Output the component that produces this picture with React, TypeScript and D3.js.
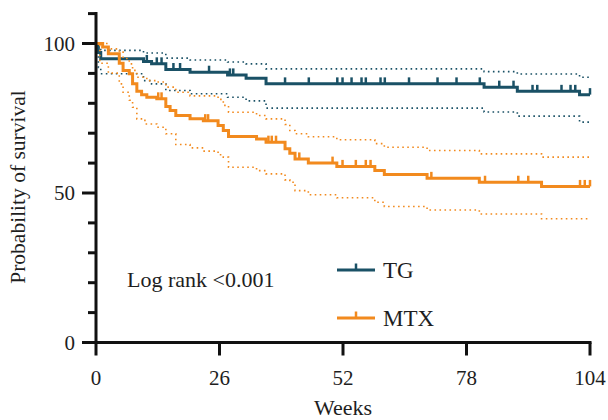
import React, { useRef, useEffect } from 'react';
import * as d3 from 'd3';

// step curves: [week, survival %] – value holds from that week onward
const tgSurvival: [number, number][] = [[0, 100], [0.5, 97], [1, 94.9], [10, 94], [11.7, 93.2], [14.7, 91.3], [19.8, 90.4], [27.7, 89.5], [31.6, 88.4], [35.8, 86.5], [81.7, 85.4], [88.7, 84.0], [101.8, 82.9], [104, 82.9]];
const tgUpper: [number, number][] = [[0, 100], [0.5, 98.5], [1, 97.7], [10, 96.8], [14.7, 95.1], [19.8, 94.5], [27.7, 93.8], [31.6, 93.2], [35.8, 91.5], [81.7, 90.6], [88.7, 89.8], [101.8, 88.7], [104, 88.7]];
const tgLower: [number, number][] = [[0, 100], [0.5, 92], [1, 89.9], [10, 87.6], [11.7, 86.5], [14.7, 84.3], [19.8, 83.2], [27.7, 82], [31.6, 80.8], [35.8, 78.4], [81.7, 77.1], [88.7, 75.7], [101.8, 73.7], [104, 73.7]];
const tgCensored = [10.7, 12.8, 13.8, 16.3, 17.7, 23.8, 28.2, 28.9, 39.8, 44.8, 50.8, 51.9, 53.8, 55.9, 56.8, 59.9, 60.8, 65.9, 71.9, 75.9, 80.8, 84.9, 87.9, 91.9, 92.9, 98.0, 99.9, 100.9, 104];

const mtxSurvival: [number, number][] = [[0, 100], [1.4, 98.8], [2.6, 96.6], [4.9, 93.4], [5.7, 91], [7.0, 89.9], [7.7, 86.5], [8.6, 84], [9.6, 82.9], [10.7, 82], [12.8, 81.5], [14.7, 78.9], [15.6, 77.6], [16.8, 75.9], [19.8, 74.8], [22.6, 74.2], [25.7, 72.6], [26.8, 70.9], [27.9, 68.9], [33.8, 68.1], [35.8, 67], [39.8, 64.8], [40.8, 63.3], [41.9, 61.4], [44.7, 60], [50.7, 58.9], [58.7, 57.5], [60.7, 56.2], [69.7, 54.9], [80.7, 53.6], [93.8, 52.2], [104, 52.2]];
const mtxUpper: [number, number][] = [[0, 100], [2.6, 98.2], [4.9, 97.1], [5.7, 95], [7.0, 93.2], [7.7, 91], [8.6, 88.7], [10.7, 87.6], [12.8, 87.1], [14.7, 85.4], [16.8, 83.7], [19.8, 82.5], [25.7, 81.3], [26.8, 79.3], [27.9, 77.0], [33.8, 75.9], [35.8, 74.8], [39.8, 72.9], [40.8, 70.9], [41.9, 69.8], [44.7, 68.8], [50.7, 67.8], [58.7, 66.5], [60.7, 65.3], [69.7, 64.2], [80.7, 63.1], [93.8, 62.0], [104, 62.0]];
const mtxLower: [number, number][] = [[0, 100], [0.8, 93.4], [2.6, 90.1], [4.9, 86.5], [5.7, 83.7], [7.0, 81], [7.7, 78.7], [8.6, 74.8], [10.3, 73.1], [12.8, 72.0], [14.7, 69.8], [16.8, 66.2], [19.8, 65.1], [22.6, 64.0], [25.7, 62.8], [26.8, 62.0], [27.9, 58.6], [33.8, 57.5], [35.8, 56.4], [39.8, 54.4], [40.8, 53.6], [41.9, 50.8], [44.7, 49.4], [50.7, 48.4], [58.7, 46.9], [60.7, 45.5], [69.7, 44.3], [80.7, 43.0], [93.8, 41.4], [104, 41.4]];
const mtxCensored = [13.1, 13.8, 23.0, 23.6, 36.3, 37.0, 37.9, 42.8, 49.8, 51.9, 54.7, 56.8, 57.8, 70.6, 81.9, 88.9, 91.0, 101.9, 102.9, 104];

const xTicks = [0, 26, 52, 78, 104];
const yMajorTicks = [0, 50, 100];
const yMinorTicks = [10, 20, 30, 40, 60, 70, 80, 90, 110];

const TEAL = '#1a5166';
const ORANGE = '#f28a1e';
const FONT = '"Liberation Serif", "Times New Roman", serif';

const App = () => {
    const ref = useRef<SVGSVGElement>(null);

    useEffect(() => {
        const svg = d3.select(ref.current);
        svg.selectAll('*').remove();

        const x = d3.scaleLinear().domain([0, 104]).range([96, 590]);
        const y = d3.scaleLinear().domain([0, 100]).range([342.5, 43.5]);

        const line = d3.line<[number, number]>()
            .x(d => x(d[0]))
            .y(d => y(d[1]))
            .curve(d3.curveStepAfter);

        // value of a step curve at week t
        const valueAt = (steps: [number, number][], t: number) => {
            let v = steps[0][1];
            for (const s of steps) if (s[0] <= t) v = s[1];
            return v;
        };

        const drawGroup = (steps, upper, lower, censored, color) => {
            const g = svg.append('g');
            [upper, lower].forEach(ci => {
                g.append('path')
                    .attr('d', line(ci))
                    .attr('fill', 'none')
                    .attr('stroke', color)
                    .attr('stroke-width', 1.6)
                    .attr('stroke-dasharray', '1.6 3.4');
            });
            g.append('path')
                .attr('d', line(steps))
                .attr('fill', 'none')
                .attr('stroke', color)
                .attr('stroke-width', 3);
            g.selectAll('line.censor')
                .data(censored)
                .enter().append('line')
                .attr('class', 'censor')
                .attr('x1', d => x(d)).attr('x2', d => x(d))
                .attr('y1', d => y(valueAt(steps, d)))
                .attr('y2', d => y(valueAt(steps, d)) - 6.5)
                .attr('stroke', color)
                .attr('stroke-width', 2.5);
        };

        drawGroup(tgSurvival, tgUpper, tgLower, tgCensored, TEAL);
        drawGroup(mtxSurvival, mtxUpper, mtxLower, mtxCensored, ORANGE);

        // axes
        const axis = svg.append('g').attr('stroke', '#111').attr('stroke-width', 3);
        axis.append('line')
            .attr('x1', x(0)).attr('x2', x(0))
            .attr('y1', y(110) - 1.5).attr('y2', y(0) + 1.5);
        axis.append('line')
            .attr('x1', x(0) - 14).attr('x2', x(104) + 1.5)
            .attr('y1', y(0)).attr('y2', y(0));
        axis.selectAll('line.ymaj').data(yMajorTicks).enter().append('line')
            .attr('class', 'ymaj')
            .attr('x1', x(0) - 14).attr('x2', x(0))
            .attr('y1', d => y(d)).attr('y2', d => y(d));
        axis.selectAll('line.ymin').data(yMinorTicks).enter().append('line')
            .attr('class', 'ymin')
            .attr('x1', x(0) - 8).attr('x2', x(0))
            .attr('y1', d => y(d)).attr('y2', d => y(d));
        axis.selectAll('line.xt').data(xTicks).enter().append('line')
            .attr('class', 'xt')
            .attr('x1', d => x(d)).attr('x2', d => x(d))
            .attr('y1', y(0)).attr('y2', y(0) + 13);

        const labels = svg.append('g').attr('font-family', FONT).attr('fill', '#1e1e1e');
        labels.selectAll('text.yl').data(yMajorTicks).enter().append('text')
            .attr('class', 'yl')
            .attr('x', x(0) - 21).attr('y', d => y(d))
            .attr('dy', '0.35em')
            .attr('text-anchor', 'end')
            .attr('font-size', 21)
            .text(d => d);
        labels.selectAll('text.xl').data(xTicks).enter().append('text')
            .attr('class', 'xl')
            .attr('x', d => x(d)).attr('y', y(0) + 42)
            .attr('text-anchor', 'middle')
            .attr('font-size', 21)
            .text(d => d);

        labels.append('text')
            .attr('x', x(52)).attr('y', 415)
            .attr('text-anchor', 'middle')
            .attr('font-size', 22)
            .text('Weeks');
        labels.append('text')
            .attr('transform', 'translate(25,' + y(52) + ') rotate(-90)')
            .attr('text-anchor', 'middle')
            .attr('font-size', 21.5)
            .text('Probability of survival');
        labels.append('text')
            .attr('x', 127).attr('y', 287)
            .attr('font-size', 22)
            .text('Log rank <0.001');

        // legend
        const legend = svg.selectAll('.legend')
            .data([{ name: 'TG', color: TEAL }, { name: 'MTX', color: ORANGE }])
            .enter().append('g')
            .attr('class', 'legend')
            .attr('transform', (d, i) => 'translate(337,' + (270 + i * 48) + ')');
        legend.append('line')
            .attr('x1', 0).attr('x2', 38)
            .attr('stroke', d => d.color).attr('stroke-width', 3);
        legend.append('line')
            .attr('x1', 19).attr('x2', 19).attr('y1', 0).attr('y2', -6.5)
            .attr('stroke', d => d.color).attr('stroke-width', 2.5);
        legend.append('text')
            .attr('x', 46).attr('dy', '0.35em')
            .attr('font-family', FONT)
            .attr('font-size', 23)
            .attr('fill', '#1e1e1e')
            .text(d => d.name);
    }, []);

    return (
        <svg ref={ref} width={608} height={420} style={{ position: 'absolute', left: 0, top: 0, background: '#fff' }}></svg>
    );
};

export default App;
